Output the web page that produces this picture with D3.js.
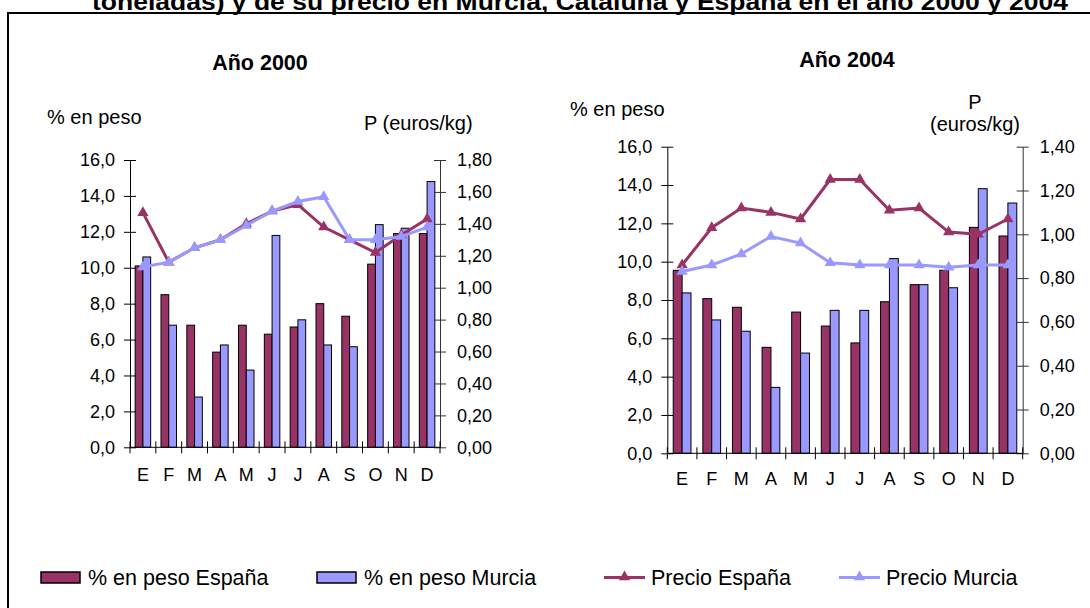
<!DOCTYPE html>
<html><head><meta charset="utf-8">
<script src="https://cdn.jsdelivr.net/npm/d3@7"></script>
<style>
body{margin:0;background:#fff;}
svg{display:block;font-family:"Liberation Sans",Arial,sans-serif;}
</style></head>
<body><svg id="c" width="1090" height="608"></svg>
<script>
// ---- data ----
const months = ["E","F","M","A","M","J","J","A","S","O","N","D"];
const pesoEspana2000  = [10.1, 8.5, 6.8, 5.3, 6.8, 6.3, 6.7, 8.0, 7.3, 10.2, 11.9, 11.9];
const pesoMurcia2000  = [10.6, 6.8, 2.8, 5.7, 4.3, 11.8, 7.1, 5.7, 5.6, 12.4, 12.2, 14.8];
const precioEspana2000 = [1.47, 1.16, 1.25, 1.30, 1.40, 1.48, 1.52, 1.38, 1.30, 1.22, 1.33, 1.43];
const precioMurcia2000 = [1.13, 1.16, 1.25, 1.30, 1.39, 1.48, 1.54, 1.57, 1.30, 1.30, 1.32, 1.38];
const pesoEspana2004  = [9.55, 8.07, 7.62, 5.53, 7.37, 6.64, 5.76, 7.91, 8.80, 9.55, 11.79, 11.34];
const pesoMurcia2004  = [8.37, 6.96, 6.37, 3.44, 5.23, 7.46, 7.46, 10.16, 8.80, 8.64, 13.81, 13.06];
const precioEspana2004 = [0.86, 1.03, 1.12, 1.10, 1.07, 1.25, 1.25, 1.11, 1.12, 1.01, 1.00, 1.07];
const precioMurcia2004 = [0.83, 0.86, 0.91, 0.99, 0.96, 0.87, 0.86, 0.86, 0.86, 0.85, 0.86, 0.86];
const pesoTicks = [0, 2, 4, 6, 8, 10, 12, 14, 16];
const precioTicks2000 = [0, 0.2, 0.4, 0.6, 0.8, 1.0, 1.2, 1.4, 1.6, 1.8];
const precioTicks2004 = [0, 0.2, 0.4, 0.6, 0.8, 1.0, 1.2, 1.4];
const titleText = "toneladas) y de su precio en Murcia, Cataluña y España en el año 2000 y 2004";
const legendLabels = ["% en peso España", "% en peso Murcia", "Precio España", "Precio Murcia"];

// ---- styles ----
const cEsp = "#993366", cMur = "#9999FF";
const svg = d3.select("#c");
const fmt1 = v => d3.format(".1f")(v).replace(".", ",");
const fmt2 = v => d3.format(".2f")(v).replace(".", ",");

// frame + title
svg.append("rect").attr("x", 8).attr("y", 13).attr("width", 1200).attr("height", 800)
  .attr("fill", "none").attr("stroke", "#000").attr("stroke-width", 2);
svg.append("text").attr("x", 92).attr("y", 10).attr("font-weight", "bold").attr("font-size", 24)
  .attr("textLength", 976).attr("lengthAdjust", "spacingAndGlyphs").text(titleText);

const tri = d3.symbol().type(d3.symbolTriangle).size(55);

function panel(o) {
  const g = svg.append("g");
  const idx = d3.range(months.length);
  const x = d3.scaleBand().domain(idx).range([o.x0, o.x1]).padding(0);
  const y = d3.scaleLinear().domain([0, 16]).range([o.yB, o.yT]);
  const y2 = d3.scaleLinear().domain([0, o.pMax]).range([o.yB, o.yT]);
  const bw = x.bandwidth() * 0.30;

  // bars
  const bars = [[o.pe, cEsp, -1], [o.pm, cMur, 0]];
  bars.forEach(([vals, col, off]) => {
    g.append("g").selectAll("rect").data(vals).join("rect")
      .attr("x", (d, i) => x(i) + x.bandwidth() / 2 + off * bw)
      .attr("y", d => y(d)).attr("width", bw).attr("height", d => y(0) - y(d))
      .attr("fill", col).attr("stroke", "#000").attr("stroke-width", 1);
  });

  // left axis
  const ax = d3.axisLeft(y).tickValues(pesoTicks).tickFormat(fmt1).tickSizeInner(6).tickSizeOuter(0).tickPadding(9);
  const gl = g.append("g").attr("transform", `translate(${o.x0},0)`).call(ax);
  gl.selectAll(".tick line").attr("x1", -6).attr("x2", 6).attr("stroke", "#000");
  gl.select(".domain").attr("stroke", "#000");
  gl.selectAll("text").attr("font-size", 18).attr("font-family", null).attr("fill", "#000");

  // right axis
  const ar = d3.axisRight(y2).tickValues(o.pTicks).tickFormat(fmt2).tickSizeInner(6).tickSizeOuter(0).tickPadding(11);
  const gr = g.append("g").attr("transform", `translate(${o.x1},0)`).call(ar);
  gr.selectAll(".tick line").attr("x1", -6).attr("x2", 6).attr("stroke", "#333");
  gr.select(".domain").attr("stroke", "#333");
  gr.selectAll("text").attr("font-size", 18).attr("font-family", null).attr("fill", "#000");

  // x axis
  g.append("line").attr("x1", o.x0).attr("x2", o.x1).attr("y1", y(0)).attr("y2", y(0)).attr("stroke", "#000");
  g.append("g").selectAll("line").data(d3.range(months.length + 1)).join("line")
    .attr("x1", i => o.x0 + i * x.step()).attr("x2", i => o.x0 + i * x.step())
    .attr("y1", y(0) - 6).attr("y2", y(0) + 6).attr("stroke", "#000");
  const axb = d3.axisBottom(x).tickFormat(i => months[i]).tickSize(0).tickPadding(o.xPad);
  const gb = g.append("g").attr("transform", `translate(0,${o.yB})`).call(axb);
  gb.select(".domain").remove();
  gb.selectAll("text").attr("font-size", 18).attr("font-family", null).attr("fill", "#000");

  // lines
  const line = d3.line().x((d, i) => x(i) + x.bandwidth() / 2).y(d => y2(d));
  [[o.ce, cEsp], [o.cm, cMur]].forEach(([vals, col]) => {
    g.append("path").datum(vals).attr("d", line).attr("fill", "none").attr("stroke", col).attr("stroke-width", 3);
    g.append("g").selectAll("path").data(vals).join("path").attr("d", tri)
      .attr("transform", (d, i) => `translate(${x(i) + x.bandwidth() / 2},${y2(d)})`).attr("fill", col);
  });

  // labels
  g.append("text").attr("x", o.tX).attr("y", o.tY).attr("text-anchor", "middle")
    .attr("font-weight", "bold").attr("font-size", 21.5).text(o.title);
  o.labels.forEach(l => g.append("text").attr("x", l[0]).attr("y", l[1]).attr("text-anchor", l[3] || "start")
    .attr("font-size", 20).text(l[2]));
}

panel({x0: 130, x1: 440, yT: 160, yB: 447.3, pMax: 1.8, pTicks: precioTicks2000,
  pe: pesoEspana2000, pm: pesoMurcia2000, ce: precioEspana2000, cm: precioMurcia2000,
  xPad: 21, title: "Año 2000", tX: 260, tY: 70,
  labels: [[47, 124, "% en peso"], [364, 130, "P (euros/kg)"]]});
panel({x0: 667.3, x1: 1022.7, yT: 146.7, yB: 453.3, pMax: 1.4, pTicks: precioTicks2004,
  pe: pesoEspana2004, pm: pesoMurcia2004, ce: precioEspana2004, cm: precioMurcia2004,
  xPad: 19, title: "Año 2004", tX: 847, tY: 67,
  labels: [[570, 116, "% en peso"], [975, 109, "P", "middle"], [975, 131, "(euros/kg)", "middle"]]});

// legend
const lg = svg.append("g");
const lx = [41, 317, 604, 839];
legendLabels.forEach((t, i) => {
  const col = i % 2 === 0 ? cEsp : cMur;
  if (i < 2) {
    lg.append("rect").attr("x", lx[i]).attr("y", 572).attr("width", 39).attr("height", 11)
      .attr("fill", col).attr("stroke", "#000").attr("stroke-width", 1.5);
  } else {
    lg.append("line").attr("x1", lx[i]).attr("x2", lx[i] + 41).attr("y1", 577.5).attr("y2", 577.5)
      .attr("stroke", col).attr("stroke-width", 3);
    lg.append("path").attr("d", tri).attr("transform", `translate(${lx[i] + 20.5},577)`).attr("fill", col);
  }
  lg.append("text").attr("x", lx[i] + 47).attr("y", 585).attr("font-size", 21.5).text(t);
});
</script></body></html>
